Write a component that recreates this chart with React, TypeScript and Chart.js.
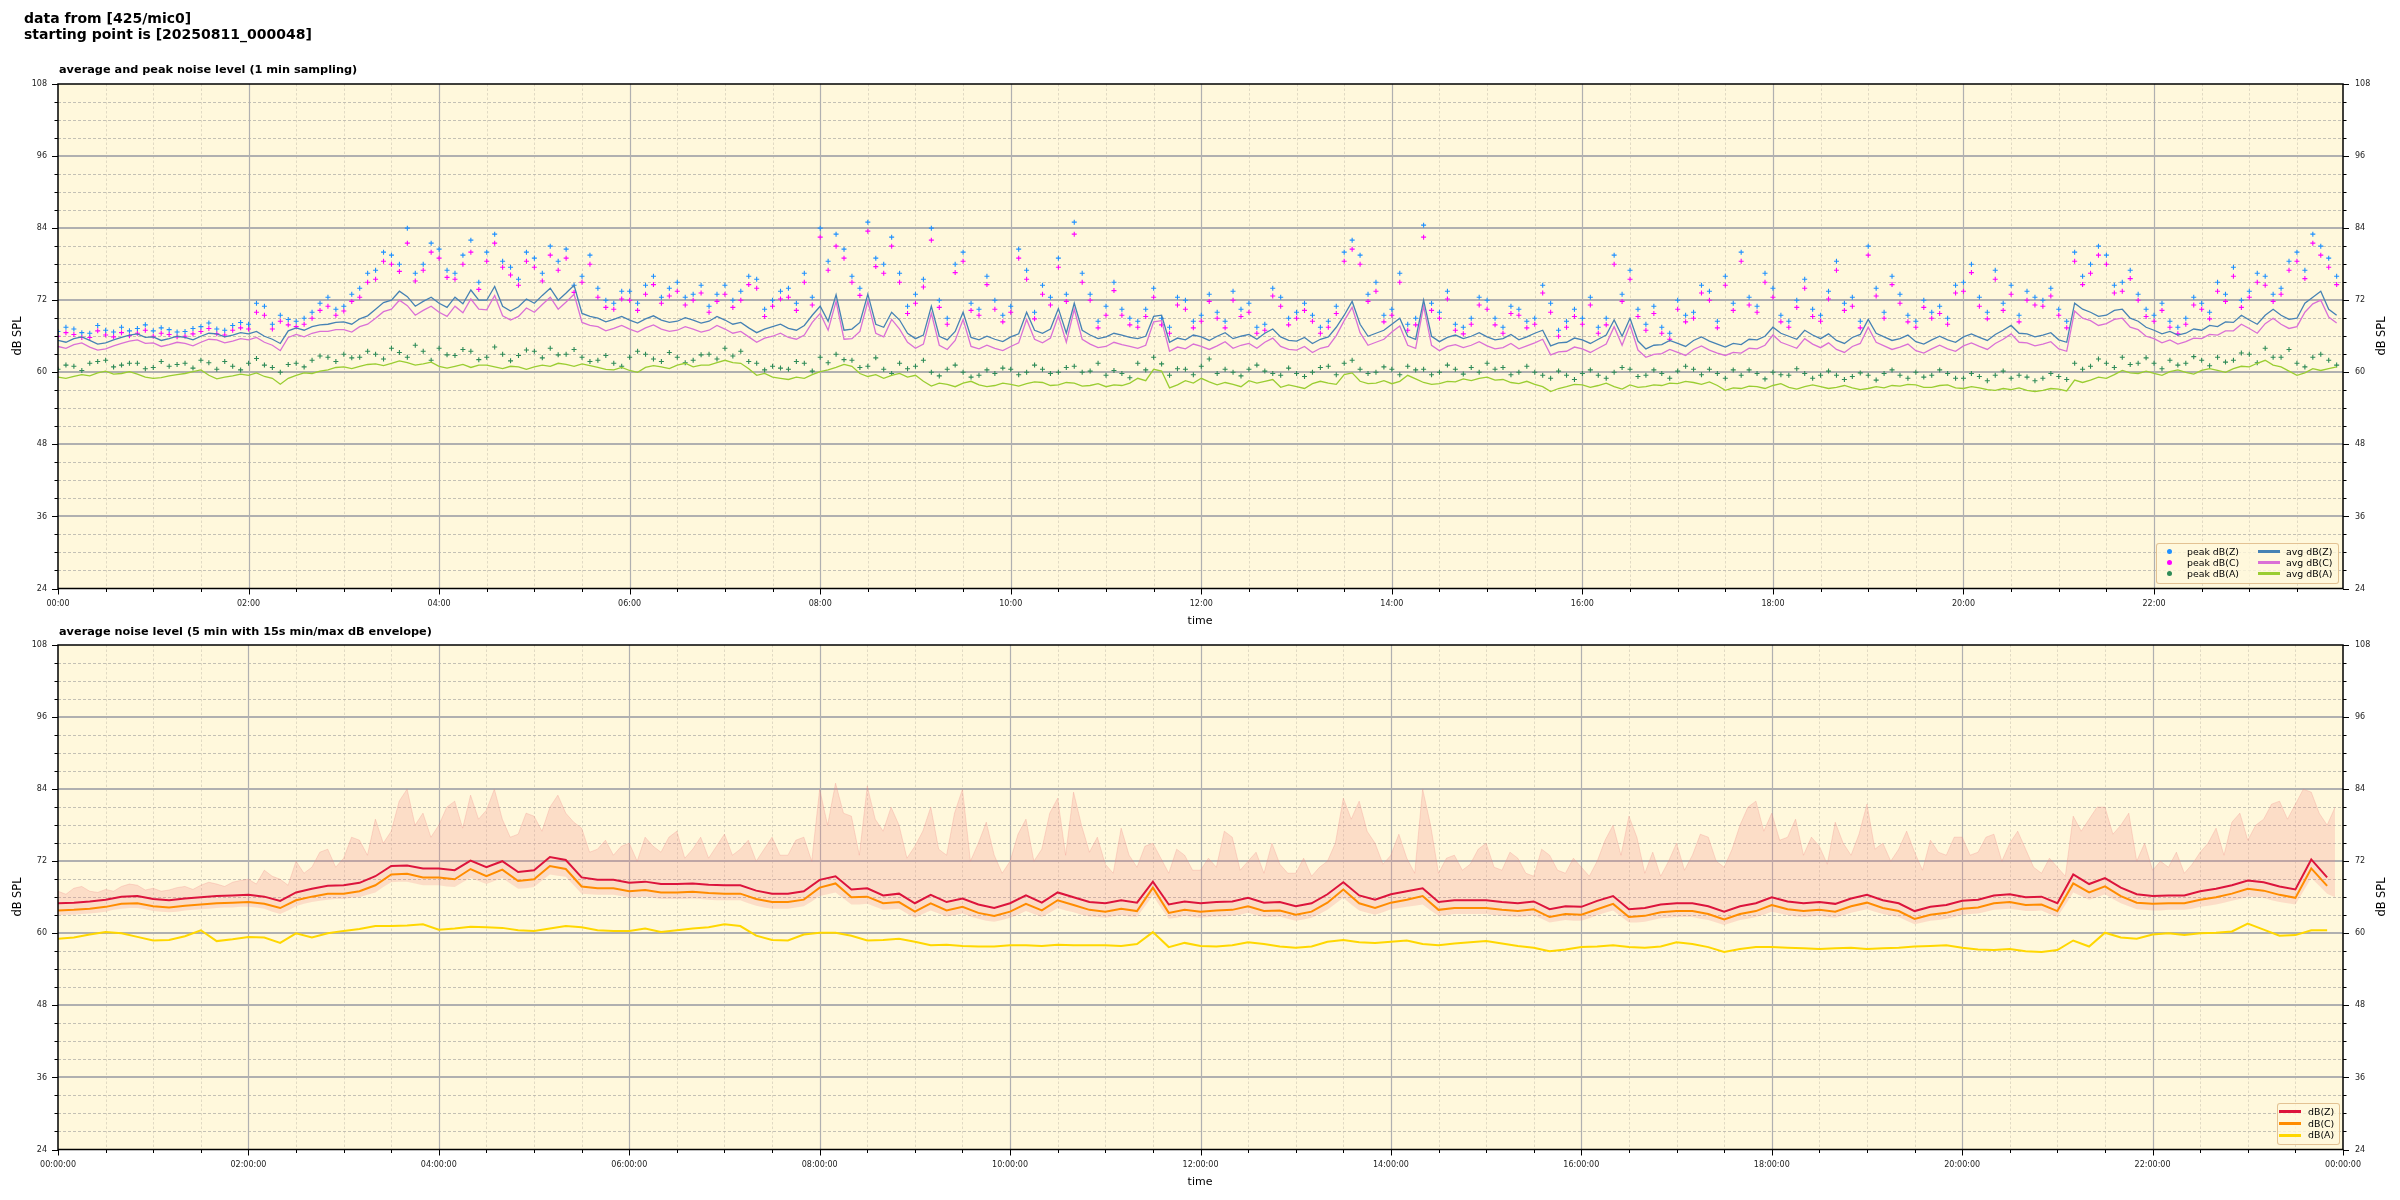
import React, { useEffect, useRef } from 'react';
import { Chart, registerables } from 'chart.js';

Chart.register(...registerables);

const FONT = "'DejaVu Sans', 'Liberation Sans', sans-serif";
const BG = '#FFF8DC';

// sampling instants (minutes after 00:00): main grid every 10 min, and the in-between samples (+5 min)
const sampleMinutes: number[] = Array.from({ length: 144 }, (_, i) => i * 10);
const midMinutes: number[] = Array.from({ length: 144 }, (_, i) => i * 10 + 5);

const yTickValues = [24, 36, 48, 60, 72, 84, 96, 108];
const topTimeLabels = ['00:00', '02:00', '04:00', '06:00', '08:00', '10:00', '12:00', '14:00', '16:00', '18:00', '20:00', '22:00'];
const bottomTimeLabels = ['00:00:00', '02:00:00', '04:00:00', '06:00:00', '08:00:00', '10:00:00', '12:00:00', '14:00:00', '16:00:00', '18:00:00', '20:00:00', '22:00:00', '00:00:00'];

// ---- top panel: average and peak noise level (1 min sampling) ----
const avgZ = [65.3,65.6,65.3,64.9,65.8,66.4,65.9,65.6,65.8,66.0, 66.4,66.2,66.4,66.0,64.8,67.4,67.6,68.0,68.4,68.9, 70.5,72.0,72.6,71.8,71.5,72.5,73.7,72.0,71.0,70.9, 71.5,74.0,73.2,69.8,69.0,68.8,68.7,68.9,68.7,68.5, 68.7,68.5,68.7,68.3,66.6,67.6,67.3,67.8,71.0,72.9, 67.2,73.0,67.5,68.7,65.6,71.0,65.4,70.0,65.4,65.5, 65.9,70.0,66.5,70.6,71.5,66.2,65.9,66.2,65.6,69.3, 65.0,65.4,65.9,66.0,65.6,66.3,66.5,65.9,65.2,64.8, 65.9,69.5,68.0,66.5,68.0,66.0,72.0,65.1,66.2,66.0, 65.9,65.6,65.4,66.5,64.4,65.0,65.4,65.5,68.7,69.0, 63.9,64.6,64.8,65.3,65.2,64.2,64.6,65.4,67.5,66.0, 67.0,65.6,65.3,65.8,68.8,65.9,65.6,65.1,65.4,65.4, 65.9,65.8,66.3,67.8,66.4,66.2,65.4,71.5,70.0,69.5, 70.5,68.5,67.0,66.8,66.5,67.0,67.6,68.3,68.7,69.5, 69.5,69.0,72.5,70.5];
const avgZMid = [65.0,65.9,64.7,65.4,66.2,65.8,65.3,66.0,65.4,66.5, 65.9,66.6,66.8,65.5,66.9,67.0,67.9,68.3,68.0,69.4, 71.6,73.5,71.0,72.5,70.8,71.4,72.0,74.3,70.2,72.2, 72.8,72.0,74.5,69.3,68.4,69.3,68.2,69.4,68.3,69.1, 68.2,69.3,68.0,67.4,67.2,68.0,67.0,69.5,68.5,67.0, 68.3,68.0,70.0,66.5,66.2,66.0,66.8,65.8,66.0,65.1, 66.4,67.0,67.2,66.5,67.0,65.6,66.5,65.8,66.0,69.5, 65.7,66.2,65.3,66.6,66.0,65.5,67.2,65.3,65.8,65.5, 67.5,71.8,66.0,67.0,69.0,65.5,66.0,65.8,65.6,66.6, 65.4,66.3,65.9,67.0,64.9,65.7,64.8,66.2,66.0,65.2, 64.5,65.3,64.3,65.9,64.7,64.8,65.5,66.0,66.5,65.5, 66.2,66.4,64.8,66.3,66.5,65.3,66.2,64.7,66.0,65.0, 66.4,65.3,67.0,66.5,65.9,66.6,65.0,70.5,69.3,70.3, 69.0,67.5,66.4,66.2,67.2,67.8,68.4,69.5,68.0,70.5, 68.8,71.5,73.5,69.5];
const avgC = [64.3,64.6,64.2,63.9,64.8,65.4,64.9,64.6,64.8,65.0, 65.4,65.2,65.4,65.0,63.6,66.3,66.5,66.8,67.1,67.6, 69.0,70.5,71.1,70.3,70.0,71.0,72.2,70.4,69.4,69.3, 70.0,72.5,71.7,68.3,67.6,67.3,67.2,67.4,67.2,67.0, 67.2,67.0,67.2,66.8,65.0,66.0,65.8,66.2,69.8,71.8, 65.6,71.8,65.9,67.2,64.0,69.8,63.8,68.8,63.9,64.0, 64.3,68.8,64.9,69.4,70.5,64.7,64.3,64.6,64.0,68.4, 63.5,63.9,64.3,64.4,64.0,64.8,65.0,64.3,63.7,63.3, 64.3,68.6,66.6,65.0,66.7,64.5,71.0,63.6,64.6,64.5, 64.4,64.1,63.9,64.9,62.9,63.5,63.9,64.0,67.6,67.9, 62.5,63.1,63.3,63.8,63.7,62.8,63.2,63.9,66.2,64.5, 65.6,64.1,63.8,64.3,67.5,64.4,64.2,63.6,63.9,63.9, 64.4,64.3,64.8,66.4,64.9,64.7,63.9,70.2,68.6,68.1, 69.0,67.1,65.6,65.4,65.1,65.6,66.2,66.9,67.3,68.1, 68.0,67.6,71.4,69.2];
const avgCMid = [64.0,64.9,63.7,64.4,65.2,64.8,64.3,65.0,64.4,65.5, 64.9,65.6,65.8,64.5,65.8,65.9,66.8,67.1,66.7,68.0, 70.1,72.0,69.5,71.0,69.3,69.9,70.5,72.8,68.7,70.7, 71.3,70.5,73.0,67.8,66.9,67.8,66.7,67.9,66.8,67.6, 66.7,67.8,66.5,65.9,65.7,66.5,65.5,68.3,67.0,65.5, 66.8,66.5,68.8,65.0,64.7,64.5,65.3,64.3,64.5,63.6, 64.9,65.5,65.7,65.0,65.5,64.1,65.0,64.3,64.5,68.6, 64.2,64.7,63.8,65.1,64.5,64.0,65.7,63.8,64.3,64.0, 66.1,70.8,64.5,65.5,67.7,64.0,64.5,64.3,64.1,65.1, 63.9,64.8,64.4,65.5,63.4,64.2,63.3,64.7,64.5,63.7, 63.0,63.8,62.8,64.4,63.2,63.3,64.0,64.5,65.0,64.0, 64.7,64.9,63.3,64.8,65.0,63.8,64.7,63.2,64.5,63.5, 64.9,63.8,65.5,65.0,64.4,65.1,63.5,69.0,67.8,68.8, 67.5,66.0,64.9,64.7,65.7,66.3,66.9,68.0,66.5,69.0, 67.3,70.0,72.0,68.2];
const avgA = [59.2,59.3,59.4,60.2,59.8,59.7,59.0,59.4,59.8,60.4, 58.9,59.4,59.5,59.3,58.0,59.5,59.8,60.4,60.9,61.0, 61.4,61.5,61.6,61.4,61.0,61.0,60.8,61.2,60.6,60.9, 60.9,61.0,61.3,61.4,60.8,60.4,60.3,60.8,60.9,61.2, 60.9,61.2,62.0,61.5,59.5,59.2,58.8,59.0,60.1,60.8, 61.0,59.3,59.0,59.8,59.5,57.7,58.0,58.2,57.9,57.8, 58.0,58.1,58.3,57.9,58.2,57.8,57.6,57.8,59.0,60.5, 57.4,58.6,59.0,57.9,58.0,58.6,58.5,57.5,57.6,58.1, 58.2,59.6,58.5,58.2,58.1,59.5,58.3,58.1,58.4,58.6, 59.2,58.8,58.1,58.0,56.8,57.6,57.9,57.8,57.6,57.9, 57.6,57.8,58.1,58.3,58.4,57.0,57.3,57.6,57.8,57.5, 57.6,57.6,57.5,57.4,57.3,57.4,57.7,57.9,57.5,57.9, 57.3,57.4,57.0,57.1,57.0,57.0,57.2,58.7,58.7,59.0, 60.3,59.8,59.8,60.1,60.0,60.3,60.3,60.6,60.9,62.0, 60.9,59.5,60.6,60.6];
const avgAMid = [59.0,59.6,59.9,59.7,60.1,59.2,59.1,59.6,60.1,59.5, 59.2,59.7,59.9,59.0,59.0,59.9,60.2,60.8,60.6,61.3, 61.1,61.9,61.2,61.7,60.7,61.3,61.2,60.9,61.0,60.5, 61.2,61.5,61.0,61.1,60.5,60.8,60.0,61.1,60.6,61.5, 61.2,61.6,61.6,60.6,59.8,59.0,59.2,59.6,60.4,61.3, 59.8,59.6,59.5,59.2,58.5,58.2,57.6,58.5,57.6,58.2, 57.7,58.4,57.8,58.3,57.7,58.1,57.9,58.2,58.6,60.2, 57.9,58.2,58.4,58.3,57.6,58.2,58.8,57.9,57.3,58.5, 58.0,59.9,58.1,58.6,58.5,58.9,58.0,58.5,58.9,59.0, 58.7,58.3,58.5,57.6,57.3,58.0,57.5,58.2,57.2,57.5, 57.9,58.2,58.5,58.0,57.8,57.4,57.7,57.3,58.1,57.2, 57.9,57.3,57.8,57.1,57.6,57.8,58.0,57.5,57.8,57.4, 57.6,57.1,57.3,57.4,56.8,57.3,56.9,58.3,59.2,59.6, 59.9,60.2,59.5,60.4,59.7,60.6,60.0,61.0,61.5,61.2, 60.2,59.9,60.3,60.9];
const peakZ = [66.8,67.2,66.5,67.0,67.5,67.3,66.9,67.1,66.8,67.6, 67.2,67.8,68.0,71.0,69.5, 68.5,70.0,72.5,71.0,74.0, 77.0,79.5,84.0,78.0,80.5,76.5,82.0,80.0,78.5,75.5,79.0,81.0,80.5,76.0, 74.0,71.5,73.5,74.5,72.5,75.0,73.0,71.0,74.5,73.5,75.5,72.0,74.0,76.5, 84.0,83.0,76.0,85.0,78.0,76.5,73.0,84.0,69.0,80.0,70.5,72.0,71.0,77.0,74.5,79.0,85.0,73.0,71.0,70.5,68.5, 74.0,67.5,72.0,69.5,70.0,73.5,71.5,68.0,72.5,70.0,69.5,68.5,80.0,79.5,75.0,70.5,68.0, 84.5,70.0,68.0,69.0,72.0,67.5,70.5,69.0,71.5,68.5,69.0,67.5,79.5,77.0,68.0,67.5,72.0,70.0,73.5,76.0, 80.0,71.0,74.0,68.5,75.5,69.5,78.5,72.5,81.0,70.0,73.0,68.5,70.0,69.0,75.0,72.5,77.0,74.5,73.5,72.0,70.5, 80.0,78.0,79.5,75.0,73.0,69.5,68.5,69.0,71.5,75.0,77.5,73.5,76.0,74.0,80.0,83.0,79.0];
const peakZMid = [67.5,66.6,67.8,66.7,66.9,67.9,67.4,66.7,67.3,68.2,67.0,68.3,71.5,68.0,68.8, 69.0,71.5,70.5,73.0,76.5, 80.0,78.0,76.5,81.5,77.0,79.5,75.0,83.0,77.5,80.0,76.5,78.5,74.5,79.5, 72.0,73.5,71.5,76.0,74.0,72.5,74.5,73.0,72.0,76.0,70.5,73.5,71.5,72.5, 78.5,80.5,74.0,79.0,82.5,71.0,75.5,72.0,78.0,71.5,76.0,69.5,80.5,70.0,72.5,73.0,76.5,68.5,75.0,69.0,70.5, 69.0,72.5,68.5,73.0,68.5,70.5,67.5,74.0,69.0,71.5,67.5,71.0,82.0,73.0,69.5,76.5,69.0, 71.5,73.5,67.5,72.5,69.0,71.0,68.5,74.5,67.0,70.5,72.5,69.0,73.0,70.5,71.0,66.5,69.5,74.5,68.5,71.5, 72.5,76.5,69.5,72.0,70.5,73.5,71.5,68.5,74.0,76.0,69.5,72.0,71.0,74.5,78.0,70.0,71.5,69.5,72.5,74.0,68.5, 76.0,81.0,74.5,77.0,70.5,71.5,67.5,72.5,70.0,73.0,72.0,76.5,73.0,78.5,77.0,81.0,76.0];
const peakC = [66.0,66.3,65.8,66.2,66.6,66.5,66.0,66.3,66.0,66.8, 66.4,67.0,67.2,69.5,68.5, 67.6,69.0,71.0,70.2,72.5, 75.5,78.0,81.5,77.0,79.0,75.5,80.0,78.5,77.5,74.5,77.5,79.5,79.0,75.0, 72.5,70.5,72.0,73.0,71.5,73.5,72.0,70.0,73.0,72.0,74.0,71.0,72.5,75.0, 82.5,81.0,75.0,83.5,76.5,75.0,71.5,82.0,68.0,78.5,69.5,70.5,70.0,75.5,73.0,77.5,83.0,72.0,69.5,69.5,67.5, 72.5,66.5,70.5,68.5,69.0,72.0,70.0,67.0,71.0,69.0,68.5,67.5,78.5,78.0,73.5,69.5,67.0, 82.5,69.0,67.0,68.0,70.5,66.5,69.5,68.0,70.0,67.5,68.0,66.5,78.0,75.5,67.0,66.5,70.5,69.0,72.0,74.5, 78.5,70.0,72.5,67.5,74.0,68.5,77.0,71.0,79.5,69.0,71.5,67.5,69.0,68.0,73.5,71.0,75.5,73.0,72.0,71.0,69.5, 78.5,76.5,78.0,73.5,72.0,68.5,67.5,68.0,70.5,73.5,76.0,72.5,74.5,73.0,78.5,81.5,77.5];
const peakCMid = [66.6,65.8,66.9,65.9,66.1,67.0,66.5,65.9,66.4,67.3,66.2,67.4,70.0,67.2,67.9, 68.0,70.3,69.5,71.8,75.0, 78.5,76.8,75.2,80.0,75.8,78.0,73.8,81.5,76.2,78.5,75.2,77.0,73.3,78.0, 70.8,72.2,70.3,74.6,72.7,71.2,73.2,71.8,70.8,74.6,69.3,72.2,70.3,71.2, 77.0,79.0,72.8,77.6,81.0,69.8,74.2,70.8,76.6,70.3,74.6,68.4,79.0,68.9,71.2,71.8,75.0,67.4,73.6,67.9,69.3, 67.9,71.2,67.4,71.8,67.4,69.3,66.5,72.7,67.9,70.3,66.5,69.8,80.5,71.8,68.4,75.0,67.9, 70.3,72.2,66.4,71.2,67.9,69.8,67.4,73.2,66.0,69.3,71.2,67.9,71.8,69.3,69.8,65.5,68.4,73.2,67.4,70.3, 71.2,75.0,68.4,70.8,69.3,72.2,70.3,67.4,72.7,74.6,68.4,70.8,69.8,73.2,76.6,68.9,70.3,68.4,71.2,72.7,67.4, 74.6,79.5,73.2,75.6,69.3,70.3,66.4,71.2,68.9,71.8,70.8,75.0,71.8,77.0,75.6,79.5,74.6];
const peakA = [60.5,61.0,61.5,62.0,61.2,61.5,60.8,61.0,61.5,62.0,60.5,61.0,61.5,61.2,60.0, 61.5,62.0,62.5,63.0,62.5, 63.0,64.0,62.5,63.5,64.0,62.8,63.5,62.5,63.0,62.8,63.5,64.0,63.0,62.5, 62.0,61.5,62.5,63.0,61.8,62.5,62.0,63.0,64.0,63.5,61.5,61.0,60.5,61.5, 62.5,63.0,62.0,61.0,60.5,61.5,61.0,60.0,60.5,60.0,59.5,59.8,60.5,60.0,60.5,60.0,61.0,60.2,59.5,59.8,61.5, 62.5,59.5,60.5,61.0,59.8,60.0,60.5,60.2,59.5,59.8,60.0,61.0,61.5,60.5,60.0,60.5,61.0, 60.5,60.0,60.5,60.8,61.5,60.8,60.0,60.0,59.0,59.5,59.8,59.5,60.0,60.5,59.5,59.8,60.2,60.5,60.5,59.0, 59.5,59.8,60.0,59.5,59.8,59.5,59.5,59.3,59.5,59.8,59.5,60.0,59.5,59.8,59.0,59.3,59.5,59.0,59.2,59.0,59.3, 61.5,61.0,61.5,62.5,61.5,61.5,62.0,61.5,62.0,62.5,62.0,63.0,64.0,62.5,61.5,62.5,62.0];
const peakAMid = [61.2,60.3,61.8,60.9,61.5,60.6,61.8,61.3,60.7,61.6,61.8,60.4,62.3,60.8,61.3, 60.9,62.7,61.8,62.4,63.5, 62.2,63.3,64.5,62.0,62.9,63.8,62.1,64.2,61.9,63.7,62.4,62.9,63.8,61.8, 62.8,61.0,63.5,62.2,63.3,61.6,62.9,62.2,62.7,61.8,60.4,60.7,61.8,60.2, 61.6,62.1,60.8,62.4,59.8,60.6,62.0,59.4,61.2,59.2,60.4,60.7,59.6,61.2,59.8,60.8,60.0,61.5,60.3,59.1,60.4, 61.4,60.6,59.6,62.2,60.5,59.4,61.2,59.8,60.7,59.3,60.8,59.6,62.0,59.8,60.9,59.6,60.4, 59.6,61.2,59.7,60.0,60.5,59.6,61.0,59.5,60.2,58.8,60.4,59.0,60.8,59.3,60.4,59.0,61.0,59.6,59.8,60.4, 60.4,58.9,59.6,60.6,59.0,60.2,58.8,59.9,58.7,60.4,59.0,59.2,60.4,59.0,59.8,58.6,60.2,59.5,58.6,59.8,58.8, 60.5,62.2,60.8,61.3,62.4,60.6,61.2,62.6,61.1,61.7,63.2,61.6,62.5,63.8,60.9,63.0,61.2];

// ---- bottom panel: average noise level (5 min) with 15 s min/max envelope ----
const levelZ = [65.0,65.1,65.3,65.6,66.1,66.2,65.7,65.5,65.8,66.0, 66.2,66.3,66.4,66.1,65.4,66.8,67.4,67.9,68.0,68.4, 69.5,71.2,71.3,70.8,70.8,70.5,72.1,71.0,72.0,70.2, 70.5,72.7,72.2,69.3,68.9,68.9,68.4,68.6,68.2,68.2, 68.3,68.1,68.0,68.0,67.1,66.6,66.6,67.0,68.9,69.5, 67.3,67.5,66.3,66.6,65.0,66.4,65.2,65.8,64.8,64.2, 65.0,66.3,65.1,66.8,66.0,65.2,65.0,65.5,65.1,68.6, 64.8,65.3,65.0,65.2,65.3,65.9,65.1,65.2,64.5,65.0, 66.5,68.5,66.3,65.6,66.5,67.0,67.5,65.2,65.5,65.5, 65.5,65.2,65.0,65.3,64.0,64.5,64.4,65.4,66.2,64.0, 64.2,64.8,65.0,65.0,64.5,63.6,64.5,65.0,66.0,65.3, 65.0,65.2,64.9,65.8,66.4,65.5,65.0,63.7,64.4,64.7, 65.4,65.6,66.3,66.5,66.0,66.1,65.0,69.8,68.2,69.2, 67.6,66.5,66.2,66.3,66.3,67.0,67.4,68.0,68.8,68.5, 67.8,67.3,72.3,69.3];
const levelC = [63.8,63.9,64.1,64.4,64.9,65.0,64.5,64.3,64.6,64.8, 65.0,65.1,65.2,64.9,64.2,65.5,66.1,66.6,66.6,67.0, 68.0,69.8,69.9,69.3,69.3,69.0,70.7,69.5,70.6,68.7, 69.0,71.2,70.7,67.8,67.5,67.5,67.0,67.2,66.8,66.8, 66.9,66.7,66.6,66.6,65.7,65.2,65.2,65.6,67.6,68.3, 66.0,66.1,65.0,65.2,63.6,65.0,63.8,64.4,63.4,62.9, 63.6,64.9,63.8,65.5,64.7,63.9,63.6,64.1,63.7,67.6, 63.4,63.9,63.6,63.8,63.9,64.5,63.7,63.8,63.1,63.6, 65.1,67.3,65.0,64.2,65.1,65.6,66.2,63.9,64.2,64.2, 64.2,63.9,63.7,64.0,62.7,63.2,63.1,64.0,64.9,62.7, 62.9,63.5,63.7,63.7,63.2,62.3,63.2,63.7,64.7,64.0, 63.7,63.9,63.6,64.5,65.1,64.2,63.7,62.4,63.1,63.4, 64.1,64.3,65.0,65.2,64.7,64.8,63.7,68.3,66.8,67.8, 66.2,65.1,64.9,65.0,65.0,65.6,66.0,66.6,67.4,67.1, 66.4,65.9,70.8,67.9];
const levelA = [59.1,59.3,59.8,60.2,60.0,59.4,58.8,58.9,59.5,60.5, 58.7,59.0,59.4,59.3,58.4,60.0,59.3,60.0,60.4,60.7, 61.2,61.2,61.3,61.5,60.6,60.8,61.1,61.0,60.9,60.5, 60.4,60.8,61.2,61.0,60.5,60.4,60.4,60.8,60.2,60.5, 60.8,61.0,61.5,61.2,59.6,58.9,58.8,59.8,60.1,60.1, 59.6,58.8,58.9,59.1,58.6,58.0,58.1,57.9,57.8,57.8, 58.0,58.0,57.9,58.1,58.0,58.0,58.0,57.9,58.2,60.2, 57.7,58.4,57.9,57.8,58.0,58.5,58.2,57.8,57.6,57.8, 58.6,58.9,58.5,58.4,58.6,58.8,58.2,58.0,58.3,58.5, 58.7,58.3,57.9,57.6,57.0,57.3,57.7,57.8,58.0,57.7, 57.6,57.8,58.5,58.2,57.7,56.9,57.4,57.7,57.7,57.6, 57.5,57.4,57.5,57.6,57.4,57.5,57.6,57.8,57.9,58.0, 57.6,57.3,57.2,57.4,57.0,56.9,57.2,58.8,57.8,60.1, 59.3,59.1,59.8,60.0,59.7,60.0,60.1,60.3,61.6,60.6, 59.6,59.7,60.5,60.5];
const envelopeMax = [67.0,67.5,67.0,67.3,67.8,68.0,67.5,67.2,67.8,68.0, 68.2,68.5,69.0,70.5,69.0,72.0,71.0,74.0,72.5,75.5, 79.0,77.0,84.0,80.0,78.0,82.0,83.0,80.5,79.0,76.5, 79.5,81.0,80.0,77.5,74.0,73.0,75.0,76.0,73.5,77.0, 74.0,72.5,76.5,74.0,72.0,76.0,73.0,76.0,84.0,85.0, 79.5,84.5,77.0,78.0,74.5,81.0,73.0,84.0,75.0,73.0, 72.0,79.0,74.0,82.5,83.5,73.5,71.5,77.5,71.0,75.0, 70.0,73.0,70.5,71.0,76.0,72.0,70.0,71.5,70.0,69.5, 72.0,82.5,82.0,75.0,73.0,72.5,84.0,70.0,73.0,71.5, 75.0,70.5,72.5,69.5,73.0,70.0,71.0,72.0,78.0,79.5, 70.0,69.5,75.0,73.0,76.0,71.0,78.0,82.0,80.0,76.0, 73.0,74.5,78.5,73.0,81.5,75.0,74.0,73.5,75.5,73.0, 76.0,73.5,76.5,75.0,74.0,70.0,71.0,79.5,79.0,81.0, 78.0,72.0,70.5,71.0,70.0,73.5,77.5,78.5,75.5,79.0, 82.0,81.5,83.5,78.0];
const envelopeMaxMid = [66.5,67.8,66.8,67.0,68.2,67.2,67.0,67.6,67.3,68.5, 67.8,68.8,68.2,69.5,68.0,70.0,73.5,71.0,76.0,73.0, 75.0,82.0,78.0,76.0,81.0,77.5,79.0,84.0,76.0,80.0, 77.0,83.0,78.5,73.5,75.5,74.5,72.0,74.5,76.0,72.5, 76.0,74.5,73.0,75.5,74.0,73.0,75.5,72.0,78.0,80.0, 73.0,79.0,81.0,72.5,77.0,74.0,80.0,72.0,78.5,70.0, 76.5,72.0,80.0,73.0,78.0,76.0,70.0,73.0,74.5,72.5, 74.0,70.5,72.5,77.0,70.5,73.5,75.0,70.0,72.5,71.0, 75.0,79.0,77.0,71.5,76.5,70.0,78.0,72.5,70.5,74.0, 71.0,73.5,70.0,74.0,70.5,72.5,69.5,75.5,73.0,76.0, 73.5,72.0,70.5,76.5,72.0,74.0,81.0,77.0,75.5,79.0, 76.0,71.5,75.0,76.5,74.0,72.0,77.0,70.5,73.5,76.0, 73.0,76.0,72.0,77.0,71.0,72.5,69.5,77.0,81.0,76.5, 80.0,75.0,72.0,73.5,71.5,75.0,73.0,80.0,78.0,81.5, 79.0,84.0,80.0,81.0];
const envelopeMin = [63.0,63.1,63.3,63.6,64.1,64.2,63.7,63.5,63.8,64.0, 64.2,64.3,64.4,64.1,63.2,64.5,65.2,65.6,65.7,66.0, 66.8,68.5,68.6,68.0,68.0,67.7,69.2,68.2,69.2,67.4, 67.7,69.8,69.4,66.6,66.4,66.4,65.9,66.1,65.7,65.7, 65.8,65.6,65.5,65.5,64.6,64.1,64.1,64.5,66.2,66.8, 64.8,64.9,63.9,64.1,62.6,63.8,62.8,63.3,62.4,61.9, 62.6,63.7,62.7,64.2,63.5,62.8,62.6,63.0,62.7,66.3, 62.4,62.9,62.6,62.8,62.9,63.4,62.7,62.8,62.1,62.6, 63.9,65.9,63.8,63.1,64.0,64.4,64.8,62.9,63.2,63.2, 63.2,62.9,62.7,63.0,61.8,62.2,62.1,63.0,63.8,61.8, 61.9,62.5,62.7,62.7,62.2,61.4,62.2,62.7,63.6,63.0, 62.7,62.9,62.6,63.4,64.0,63.2,62.7,61.5,62.1,62.4, 63.1,63.3,63.9,64.1,63.7,63.8,62.7,66.8,65.6,66.5, 65.0,64.0,63.8,63.9,63.9,64.4,64.8,65.4,66.1,65.9, 65.2,64.8,69.2,66.6];
const envelopeMinMid = [63.1,63.2,63.4,63.9,64.2,64.0,63.6,63.6,63.9,64.1, 64.3,64.4,64.3,63.6,63.8,64.9,65.4,65.7,65.9,66.4, 67.7,68.6,68.3,68.0,67.8,68.5,68.7,68.7,68.3,67.5, 68.8,69.6,68.0,66.5,66.4,66.2,66.0,65.9,65.7,65.7, 65.7,65.5,65.5,65.0,64.3,64.1,64.3,65.3,66.5,65.8, 64.8,64.4,64.0,63.3,63.2,63.3,63.0,62.8,62.1,62.2, 63.1,63.2,63.4,63.8,63.1,62.7,62.8,62.8,64.5,64.3, 62.6,62.7,62.7,62.8,63.1,63.0,62.7,62.4,62.3,63.2, 64.9,64.8,63.4,63.5,64.2,64.6,63.8,63.0,63.2,63.2, 63.0,62.8,62.8,62.4,62.0,62.1,62.5,63.4,62.8,61.8, 62.2,62.6,62.7,62.4,61.8,61.8,62.4,63.1,63.3,62.8, 62.8,62.7,63.0,63.7,63.6,62.9,62.1,61.8,62.2,62.7, 63.2,63.6,64.0,63.9,63.7,63.2,64.7,66.2,66.0,65.7, 64.5,63.9,63.8,63.9,64.1,64.6,65.1,65.7,66.0,65.5, 65.0,67.0,67.9,66.0];

const pts = (vals: number[]) => vals.map((v, i) => ({ x: sampleMinutes[i], y: v }));
const ptsMid = (vals: number[]) => vals.map((v, i) => ({ x: midMinutes[i], y: v }));
const interleave = (main: number[], mid: number[]) =>
  main.flatMap((v, i) => (i < mid.length ? [{ x: sampleMinutes[i], y: v }, { x: midMinutes[i], y: mid[i] }] : [{ x: sampleMinutes[i], y: v }]));

const lineSet = (label: string, data: any[], color: string, width: number) => ({
  label, data, borderColor: color, backgroundColor: color,
  borderWidth: width, pointRadius: 0, tension: 0, fill: false,
});
const dotSet = (label: string, data: any[], color: string) => ({
  label, data, showLine: false, pointStyle: 'cross', pointRadius: 2.5,
  pointBorderWidth: 1.1, pointBorderColor: color, pointBackgroundColor: color,
  borderColor: color, backgroundColor: color,
});

const decor = {
  id: 'decor',
  beforeDraw(chart: any) {
    const { ctx, chartArea: a } = chart;
    ctx.save();
    ctx.fillStyle = BG;
    ctx.fillRect(a.left, a.top, a.right - a.left, a.bottom - a.top);
    ctx.restore();
  },
  beforeDatasetsDraw(chart: any) {
    const { ctx, chartArea: a, scales } = chart;
    const x = scales.x, y = scales.y;
    const seg = (x1: number, y1: number, x2: number, y2: number) => {
      ctx.beginPath(); ctx.moveTo(x1, y1); ctx.lineTo(x2, y2); ctx.stroke();
    };
    ctx.save();
    ctx.lineWidth = 0.8; ctx.strokeStyle = '#d9d2bc'; ctx.setLineDash([2.5, 2]);
    for (let m = 30; m < x.max; m += 30) {
      if (m % 120 === 0) continue;
      const px = Math.round(x.getPixelForValue(m)) + 0.5;
      seg(px, a.top, px, a.bottom);
    }
    ctx.lineWidth = 0.9; ctx.strokeStyle = '#bdbab0'; ctx.setLineDash([3, 2]);
    for (let v = 27; v < 108; v += 3) {
      if ((v - 24) % 12 === 0) continue;
      const py = Math.round(y.getPixelForValue(v)) + 0.5;
      seg(a.left, py, a.right, py);
    }
    ctx.setLineDash([]);
    ctx.strokeStyle = '#b0b0b0';
    ctx.lineWidth = 1.2;
    for (let m = 120; m < x.max; m += 120) {
      const px = Math.round(x.getPixelForValue(m)) + 0.5;
      seg(px, a.top, px, a.bottom);
    }
    ctx.lineWidth = 1.8;
    for (let v = 36; v < 108; v += 12) {
      const py = Math.round(y.getPixelForValue(v));
      seg(a.left, py, a.right, py);
    }
    ctx.restore();
  },
  afterDraw(chart: any) {
    const { ctx, chartArea: a, scales } = chart;
    const x = scales.x, y = scales.y;
    const seg = (x1: number, y1: number, x2: number, y2: number) => {
      ctx.beginPath(); ctx.moveTo(x1, y1); ctx.lineTo(x2, y2); ctx.stroke();
    };
    ctx.save();
    ctx.strokeStyle = '#000';
    ctx.lineWidth = 1;
    for (let m = 0; m <= x.max; m += 30) {
      const px = Math.round(x.getPixelForValue(m)) + 0.5;
      const len = m % 120 === 0 ? 6 : 3.5;
      seg(px, a.bottom, px, a.bottom + len);
    }
    for (let v = 24; v <= 108; v += 3) {
      const py = Math.round(y.getPixelForValue(v)) + 0.5;
      const len = (v - 24) % 12 === 0 ? 6 : 3.5;
      seg(a.left - len, py, a.left, py);
      seg(a.right, py, a.right + len, py);
    }
    ctx.lineWidth = 1.5;
    ctx.strokeRect(a.left, a.top, a.right - a.left, a.bottom - a.top);
    ctx.restore();
  },
};

const makeOptions = (xMax: number, timeLabels: string[], padTop: number, xHeight: number) => ({
  responsive: false,
  animation: false,
  devicePixelRatio: 1,
  layout: { padding: { top: padTop, left: 0, right: 0, bottom: 0 } },
  plugins: { legend: { display: false }, tooltip: { enabled: false }, title: { display: false } },
  scales: {
    x: {
      type: 'linear', min: 0, max: xMax,
      grid: { display: false, drawTicks: false }, border: { display: false },
      afterBuildTicks: (s: any) => { s.ticks = timeLabels.map((_, i) => ({ value: i * 120 })); },
      afterFit: (s: any) => { s.height = xHeight; },
      ticks: {
        autoSkip: false, maxRotation: 0, minRotation: 0, padding: 11, color: '#222',
        font: { family: FONT, size: 8 },
        callback: (v: number) => timeLabels[Math.round(v / 120)] ?? '',
      },
    },
    y: {
      type: 'linear', position: 'left', min: 24, max: 108,
      grid: { display: false, drawTicks: false }, border: { display: false },
      afterBuildTicks: (s: any) => { s.ticks = yTickValues.map((v) => ({ value: v })); },
      afterFit: (s: any) => { s.width = 58; },
      ticks: { autoSkip: false, padding: 11, color: '#222', font: { family: FONT, size: 8 }, callback: (v: number) => String(v) },
    },
    y2: {
      type: 'linear', position: 'right', min: 24, max: 108,
      grid: { display: false, drawTicks: false }, border: { display: false },
      afterBuildTicks: (s: any) => { s.ticks = yTickValues.map((v) => ({ value: v })); },
      afterFit: (s: any) => { s.width = 57; },
      ticks: { autoSkip: false, padding: 12, color: '#222', font: { family: FONT, size: 8 }, callback: (v: number) => String(v) },
    },
  },
});

const Txt = ({ x, base, size, bold, children }: any) => (
  <div style={{
    position: 'absolute', left: x, top: base - 0.846 * size, fontFamily: FONT, fontSize: size,
    fontWeight: bold ? 'bold' : 'normal', lineHeight: `${size}px`, whiteSpace: 'pre', color: '#000',
  }}>{children}</div>
);

const Centered = ({ x, y, size, rotate, children }: any) => (
  <div style={{
    position: 'absolute', left: x, top: y, fontFamily: FONT, fontSize: size, lineHeight: `${size}px`,
    whiteSpace: 'pre', color: '#000',
    transform: `translate(-50%, -50%)${rotate ? ' rotate(-90deg)' : ''}`,
  }}>{children}</div>
);

const LegendLine = ({ x, y, color, label, textX }: any) => (
  <>
    <div style={{ position: 'absolute', left: x, top: y - 1.5, width: 22, height: 3, background: color }} />
    <Txt x={textX} base={y + 3.4} size={9.4}>{label}</Txt>
  </>
);
const LegendDot = ({ x, y, color, label, textX }: any) => (
  <>
    <div style={{ position: 'absolute', left: x - 2.5, top: y - 2.5, width: 5, height: 5, borderRadius: '50%', background: color }} />
    <Txt x={textX} base={y + 3.4} size={9.4}>{label}</Txt>
  </>
);

export default function App() {
  const topRef = useRef<HTMLCanvasElement>(null);
  const botRef = useRef<HTMLCanvasElement>(null);

  useEffect(() => {
    const top = new Chart(topRef.current as HTMLCanvasElement, {
      type: 'line',
      data: {
        datasets: [
          lineSet('avg dB(Z)', interleave(avgZ, avgZMid), '#4682B4', 1.3),
          lineSet('avg dB(C)', interleave(avgC, avgCMid), '#DA70D6', 1.3),
          lineSet('avg dB(A)', interleave(avgA, avgAMid), '#9ACD32', 1.3),
          dotSet('peak dB(Z)', [...pts(peakZ), ...ptsMid(peakZMid)], '#1E90FF'),
          dotSet('peak dB(C)', [...pts(peakC), ...ptsMid(peakCMid)], '#FF00FF'),
          dotSet('peak dB(A)', [...pts(peakA), ...ptsMid(peakAMid)], '#2E8B57'),
        ] as any,
      },
      options: makeOptions(1439, topTimeLabels, 84, 51.5) as any,
      plugins: [decor],
    });
    const bot = new Chart(botRef.current as HTMLCanvasElement, {
      type: 'line',
      data: {
        datasets: [
          lineSet('dB(Z)', pts(levelZ), '#DC143C', 2),
          lineSet('dB(C)', pts(levelC), '#FF8C00', 2),
          lineSet('dB(A)', pts(levelA), '#FFD700', 2),
          { label: 'min', data: interleave(envelopeMin, envelopeMinMid), borderWidth: 0, borderColor: 'rgba(0,0,0,0)', pointRadius: 0, fill: false },
          { label: 'max', data: interleave(envelopeMax, envelopeMaxMid), borderWidth: 0.8, borderColor: 'rgba(240,128,128,0.32)', backgroundColor: 'rgba(240,128,128,0.22)', pointRadius: 0, fill: '-1' },
        ] as any,
      },
      options: makeOptions(1440, bottomTimeLabels, 35, 50.5) as any,
      plugins: [decor],
    });
    return () => { top.destroy(); bot.destroy(); };
  }, []);

  return (
    <div style={{ position: 'absolute', left: 0, top: 0, width: 2400, height: 1200, background: '#fff', overflow: 'hidden' }}>
      <canvas ref={topRef} width={2400} height={640} style={{ position: 'absolute', left: 0, top: 0 }} />
      <canvas ref={botRef} width={2400} height={590} style={{ position: 'absolute', left: 0, top: 610 }} />

      <Txt x={24} base={23} size={14} bold>data from [425/mic0]</Txt>
      <Txt x={24} base={39} size={14} bold>starting point is [20250811_000048]</Txt>

      <Txt x={59} base={74} size={11.3} bold>average and peak noise level (1 min sampling)</Txt>
      <Txt x={59} base={636} size={11.3} bold>average noise level (5 min with 15s min/max dB envelope)</Txt>

      <Centered x={17.5} y={336} size={11.4} rotate>dB SPL</Centered>
      <Centered x={2382} y={336} size={11.4} rotate>dB SPL</Centered>
      <Centered x={1200} y={620} size={11}>time</Centered>
      <Centered x={17.5} y={897} size={11.4} rotate>dB SPL</Centered>
      <Centered x={2382} y={897} size={11.4} rotate>dB SPL</Centered>
      <Centered x={1200} y={1181} size={11}>time</Centered>

      <div style={{ position: 'absolute', left: 2156, top: 543, width: 181, height: 39, border: '1px solid rgba(222,184,135,0.85)', borderRadius: 3, background: 'rgba(255,248,220,0.8)' }} />
      <LegendDot x={2169} y={551.5} color="#1E90FF" label="peak dB(Z)" textX={2187} />
      <LegendDot x={2169} y={562.5} color="#FF00FF" label="peak dB(C)" textX={2187} />
      <LegendDot x={2169} y={573.5} color="#2E8B57" label="peak dB(A)" textX={2187} />
      <LegendLine x={2258} y={551.5} color="#4682B4" label="avg dB(Z)" textX={2286} />
      <LegendLine x={2258} y={562.5} color="#DA70D6" label="avg dB(C)" textX={2286} />
      <LegendLine x={2258} y={573.5} color="#9ACD32" label="avg dB(A)" textX={2286} />

      <div style={{ position: 'absolute', left: 2277, top: 1103, width: 61, height: 40, border: '1px solid rgba(222,184,135,0.85)', borderRadius: 3, background: 'rgba(255,248,220,0.8)' }} />
      <LegendLine x={2279} y={1111.5} color="#DC143C" label="dB(Z)" textX={2308} />
      <LegendLine x={2279} y={1123.5} color="#FF8C00" label="dB(C)" textX={2308} />
      <LegendLine x={2279} y={1135} color="#FFD700" label="dB(A)" textX={2308} />
    </div>
  );
}
